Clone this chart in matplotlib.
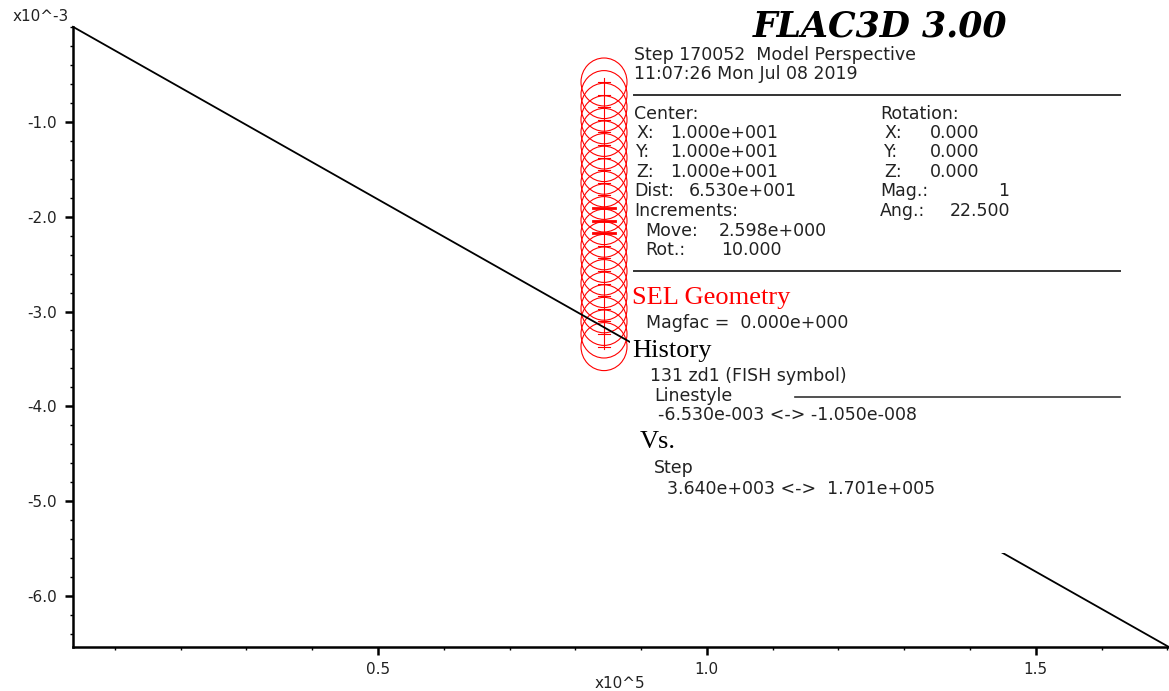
import matplotlib.pyplot as plt
from matplotlib.patches import Rectangle, Ellipse
from matplotlib.ticker import MultipleLocator, FixedLocator, FixedFormatter

# history 131 zd1 (FISH symbol) vs step, ends taken from the legend ranges
step = [3.640e3, 1.701e5]
zd1 = [-1.050e-8, -6.530e-3]

x_ticks = [0.5, 1.0, 1.5]
x_tick_labels = ["0.5", "1.0", "1.5"]
y_ticks = [-6.0, -5.0, -4.0, -3.0, -2.0, -1.0]
y_tick_labels = ["-6.0", "-5.0", "-4.0", "-3.0", "-2.0", "-1.0"]

title = "FLAC3D 3.00"
header = ["Step 170052  Model Perspective", "11:07:26 Mon Jul 08 2019"]
center_rows = [("Center:", ""), (" X:", "1.000e+001"), (" Y:", "1.000e+001"),
               (" Z:", "1.000e+001"), ("Dist:", "6.530e+001"), ("Increments:", ""),
               ("  Move:", "2.598e+000"), ("  Rot.:", "10.000")]
rotation_rows = [("Rotation:", ""), (" X:", "0.000"), (" Y:", "0.000"),
                 (" Z:", "0.000"), ("Mag.:", "1"), ("Ang.:", "22.500")]
sel_text = ["SEL Geometry", "Magfac =  0.000e+000"]
hist_text = ["History", "131 zd1 (FISH symbol)", "Linestyle",
             "-6.530e-003 <-> -1.050e-008", "Vs.", "Step",
             "3.640e+003 <->  1.701e+005"]

W, H = 1169, 691
SANS = "DejaVu Sans"
SERIF = "Liberation Serif"
INK = "#222222"

fig = plt.figure(figsize=(W / 100, H / 100), dpi=100)

# ---- background layer: SEL pile geometry (drawn under the history line)
bg = fig.add_axes([0, 0, 1, 1], zorder=0)
bg.set_xlim(0, W)
bg.set_ylim(H, 0)
bg.axis("off")

cx, cy0, dy, n_ring = 604, 82, 12.6, 22
for i in range(n_ring):
    cy = cy0 + i * dy
    bg.add_patch(Ellipse((cx, cy), 46, 48, fill=False, ec="red", lw=0.8))
    half = 11 if i in (10, 11, 12) else 6
    bg.plot([cx - half, cx + half], [cy, cy], color="red",
            lw=2.0 if i in (10, 11, 12) else 0.8)
bg.plot([cx, cx], [cy0 - 4, cy0 + (n_ring - 1) * dy + 2], color="red", lw=0.8)

# ---- main history plot
l, r = 73, 1168
t, b = 26.8, 646.5
ax = fig.add_axes([l / W, (H - b) / H, (r - l) / W, (b - t) / H], zorder=1)
ax.patch.set_alpha(0)

xs = [s / 1e5 for s in step]
ys = [z / 1e-3 for z in zd1]
ax.plot(xs, ys, color="black", lw=1.3, clip_on=False)

ax.set_xlim(step[0] / 1e5, step[1] / 1e5)
ax.set_ylim(zd1[1] / 1e-3, 0)

for side in ["top", "right"]:
    ax.spines[side].set_visible(False)
for side in ["left", "bottom"]:
    ax.spines[side].set_linewidth(1.8)
    ax.spines[side].set_color("black")

ax.xaxis.set_major_locator(FixedLocator(x_ticks))
ax.xaxis.set_major_formatter(FixedFormatter(x_tick_labels))
ax.yaxis.set_major_locator(FixedLocator(y_ticks))
ax.yaxis.set_major_formatter(FixedFormatter(y_tick_labels))
ax.xaxis.set_minor_locator(MultipleLocator(0.1))
ax.yaxis.set_minor_locator(MultipleLocator(0.2))

ax.tick_params(which="major", direction="out", length=5.5, width=1.8,
               color="black", labelsize=11, labelcolor=INK, pad=6)
ax.tick_params(which="minor", direction="out", length=2.5, width=1.0,
               color="black")

# ---- foreground layer: legend panel covering the plot
fg = fig.add_axes([0, 0, 1, 1], zorder=2)
fg.set_xlim(0, W)
fg.set_ylim(H, 0)
fg.axis("off")
fg.patch.set_alpha(0)

fg.add_patch(Rectangle((630, 0), W - 630, 553, fc="white", ec="none"))

fg.text(41, 16, "x10^-3", family=SANS, fontsize=11, color=INK,
        ha="center", va="center")
fg.text(620, 684, "x10^5", family=SANS, fontsize=11, color=INK,
        ha="center", va="center")

fg.text(880, 26, title, family="DejaVu Serif", fontsize=25,
        fontweight="bold", fontstyle="italic", color="black",
        ha="center", va="center")

def sans(x, y, s):
    fg.text(x, y, s, family=SANS, fontsize=12.5, color=INK,
            ha="left", va="center")

sans(634, 55, header[0])
sans(634, 74, header[1])
fg.plot([634, 1120], [95, 95], color="#333333", lw=1.4)

row_y = [114, 133, 152, 172, 191, 211, 231, 250]
left_x = [634, 636, 636, 636, 634, 634, 645, 645]
val_x = [None, 670, 670, 670, 689, None, 719, 721]
for (lab, val), y, lx, vx in zip(center_rows, row_y, left_x, val_x):
    sans(lx, y, lab.strip())
    if val:
        sans(vx, y, val)

rot_lx = [880, 884, 884, 884, 880, 880]
rot_vx = [None, 930, 930, 930, 998, 950]
for (lab, val), y, lx, vx in zip(rotation_rows, row_y, rot_lx, rot_vx):
    sans(lx, y, lab.strip())
    if val:
        sans(vx, y, val)

fg.plot([634, 1120], [271, 271], color="#333333", lw=1.4)

fg.text(632, 298, sel_text[0], family=SERIF, fontsize=19, color="red",
        ha="left", va="center")
sans(646, 323, sel_text[1])

fg.text(632, 351, hist_text[0], family=SERIF, fontsize=19, color="black",
        ha="left", va="center")
sans(650, 376, hist_text[1])
sans(654, 396, hist_text[2])
fg.plot([795, 1120], [397, 397], color="#333333", lw=1.2)
sans(658, 415, hist_text[3])
fg.text(640, 442, hist_text[4], family=SERIF, fontsize=19, color="black",
        ha="left", va="center")
sans(654, 468, hist_text[5])
sans(667, 489, hist_text[6])

fig.savefig("out.png", dpi=100)
